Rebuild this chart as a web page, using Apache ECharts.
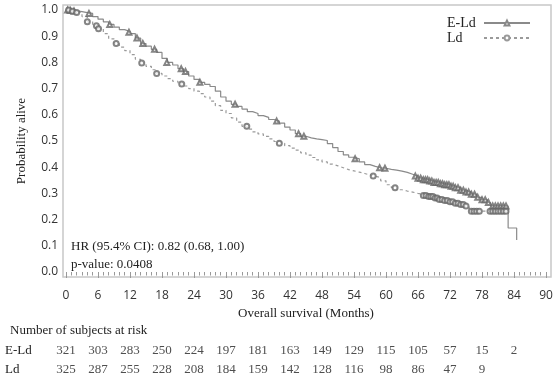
<!DOCTYPE html>
<html>
<head>
<meta charset="utf-8">
<script src="https://cdn.jsdelivr.net/npm/echarts@6/dist/echarts.min.js"></script>
<style>html,body{margin:0;padding:0;background:#fff}#c{width:557px;height:380px}</style>
</head>
<body>
<div id="c"></div>
<script>
// ---- data ----
const xTicks = [0, 6, 12, 18, 24, 30, 36, 42, 48, 54, 60, 66, 72, 78, 84, 90];
const yTicks = [0, 0.1, 0.2, 0.3, 0.4, 0.5, 0.6, 0.7, 0.8, 0.9, 1.0];
const seriesNames = ['E-Ld', 'Ld'];

const eldCurve = [
  [0,1.0],[1,0.997],[2,0.994],[3,0.99],[4,0.987],[5,0.975],[6,0.965],[7,0.955],[8,0.945],[9,0.935],
  [10,0.925],[11,0.918],[12,0.91],[13,0.893],[14,0.872],[15,0.862],[16,0.85],[17,0.838],[18,0.815],[19,0.8],
  [20,0.79],[21,0.776],[22,0.765],[23,0.748],[24,0.735],[25,0.724],[26,0.716],[27,0.708],[28,0.69],[29,0.668],
  [30,0.652],[31,0.64],[32,0.632],[33,0.622],[34,0.612],[35,0.605],[36,0.597],[37,0.59],[38,0.582],[39,0.576],
  [40,0.568],[41,0.553],[42,0.542],[43,0.528],[44,0.518],[45,0.512],[46,0.508],[47,0.505],[48,0.502],[49,0.49],
  [50,0.475],[51,0.46],[52,0.447],[53,0.438],[54,0.432],[55,0.42],[56,0.41],[57,0.403],[58,0.398],[59,0.396],
  [60,0.392],[61,0.389],[62,0.385],[63,0.38],[64,0.373],[65,0.366],[66,0.358],[67,0.352],[68,0.347],[69,0.342],
  [70,0.337],[71,0.333],[72,0.327],[73,0.322],[74,0.312],[75,0.305],[76,0.297],[77,0.285],[78,0.276],[79,0.265],
  [79.6,0.252],[82.9,0.168],[84.5,0.122]
];
const ldCurve = [
  [0,1.0],[1,0.995],[2,0.99],[3,0.975],[4,0.955],[5,0.94],[6,0.928],[7,0.91],[8,0.89],[9,0.872],
  [10,0.858],[11,0.845],[12,0.83],[13,0.812],[14,0.798],[15,0.785],[16,0.772],[17,0.758],[18,0.748],[19,0.738],
  [20,0.728],[21,0.718],[22,0.71],[23,0.7],[24,0.69],[25,0.681],[26,0.668],[27,0.652],[28,0.635],[29,0.617],
  [30,0.605],[31,0.588],[32,0.572],[33,0.556],[34,0.545],[35,0.535],[36,0.527],[37,0.518],[38,0.508],[39,0.498],
  [40,0.491],[41,0.482],[42,0.473],[43,0.465],[44,0.455],[45,0.446],[46,0.437],[47,0.428],[48,0.42],[49,0.412],
  [50,0.405],[51,0.398],[52,0.391],[53,0.386],[54,0.381],[55,0.376],[56,0.37],[57,0.366],[58,0.36],[59,0.348],
  [60,0.333],[61,0.322],[62,0.314],[63,0.309],[64,0.305],[65,0.3],[66,0.296],[67,0.292],[68,0.288],[69,0.282],
  [70,0.277],[71,0.273],[72,0.268],[73,0.262],[74,0.258],[75,0.252],[75.6,0.232],[82.5,0.232]
];
const eldCensor = [
  [0.3,1.0],[0.8,0.998],[1.5,0.996],[4.3,0.987],[8.2,0.945],[11.8,0.915],[13.3,0.893],[14.4,0.872],[16.6,0.85],
  [18.9,0.8],[21.6,0.776],[22.4,0.765],[25.1,0.724],[31.7,0.64],[39.5,0.576],[43.6,0.528],[44.6,0.518],
  [54.2,0.432],[58.8,0.398],[59.8,0.396],[65.5,0.366],[66,0.358],[66.5,0.358],[67,0.352],[67.4,0.352],
  [67.8,0.352],[68.2,0.347],[68.6,0.347],[69,0.342],[69.4,0.342],[69.8,0.342],[70.2,0.337],[70.6,0.337],
  [71,0.333],[71.4,0.333],[71.8,0.333],[72.2,0.327],[72.6,0.327],[73,0.322],[73.5,0.322],[74,0.312],
  [74.5,0.312],[75,0.305],[75.5,0.305],[76,0.297],[76.6,0.297],[77.2,0.285],[78,0.276],[78.6,0.276],
  [79.2,0.265],[80,0.252],[80.5,0.252],[81,0.252],[81.5,0.252],[82,0.252],[82.5,0.252]
];
const ldCensor = [
  [0.5,1.0],[1.2,0.995],[2,0.99],[4,0.955],[5.7,0.94],[6.1,0.928],[9.4,0.872],[14.2,0.798],[17,0.758],
  [21.7,0.718],[33.9,0.556],[40,0.491],[57.6,0.366],[61.7,0.322],[67,0.292],[67.5,0.292],[68,0.288],
  [68.4,0.288],[68.8,0.288],[69.2,0.282],[69.6,0.282],[70,0.277],[70.5,0.277],[71,0.273],[71.5,0.273],
  [72,0.268],[72.5,0.268],[73,0.262],[73.5,0.262],[74,0.258],[74.5,0.258],[75,0.252],[76,0.232],
  [76.5,0.232],[77,0.232],[77.5,0.232],[79.5,0.232],[80,0.232],[80.5,0.232],[81,0.232],[81.5,0.232],
  [82,0.232],[82.5,0.232]
];
const riskTimes = [0, 6, 12, 18, 24, 30, 36, 42, 48, 54, 60, 66, 72, 78, 84];
const riskEld = [321, 303, 283, 250, 224, 197, 181, 163, 149, 129, 115, 105, 57, 15, 2];
const riskLd = [325, 287, 255, 228, 208, 184, 159, 142, 128, 116, 98, 86, 47, 9];
const annotationLines = ['HR (95.4% CI): 0.82 (0.68, 1.00)', 'p-value: 0.0408'];
const riskTitle = 'Number of subjects at risk';
const xName = 'Overall survival (Months)';
const yName = 'Probability alive';

// ---- chart ----
const SERIF = '"Liberation Serif", "DejaVu Serif", serif';
const SANS = '"Open Sans", "Noto Sans", sans-serif';
const chart = echarts.init(document.getElementById('c'), null, {renderer: 'canvas'});

const riskData = [];
riskTimes.forEach((t, i) => { if (riskEld[i] !== undefined) riskData.push([t, 'E-Ld', riskEld[i]]); });
riskTimes.forEach((t, i) => { if (riskLd[i] !== undefined) riskData.push([t, 'Ld', riskLd[i]]); });

chart.setOption({
  animation: false,
  backgroundColor: '#fff',
  grid: [
    {left: 66, right: 11, top: 10, bottom: 108},
    {left: 66, right: 11, top: 341.5, height: 38}
  ],
  xAxis: [
    {
      type: 'value', gridIndex: 0, min: xTicks[0], max: xTicks[xTicks.length - 1], interval: 6, offset: 5,
      axisLine: {show: false},
      axisTick: {show: true, length: 6, lineStyle: {color: '#999'}},
      minorTick: {show: true, splitNumber: 6, length: 3.5, lineStyle: {color: '#999'}},
      splitLine: {show: false},
      axisLabel: {margin: 13, color: '#333', fontFamily: SANS, fontSize: 12},
      name: xName, nameLocation: 'middle', nameGap: 30,
      nameTextStyle: {fontFamily: SERIF, fontSize: 13, color: '#222'}
    },
    {
      type: 'value', gridIndex: 1, min: 0, max: 90, show: false
    }
  ],
  yAxis: [
    {
      type: 'value', gridIndex: 0, min: yTicks[0], max: yTicks[yTicks.length - 1], interval: 0.1,
      axisLine: {show: false}, axisTick: {show: false}, splitLine: {show: false},
      axisLabel: {margin: 8, color: '#333', fontFamily: SANS, fontSize: 12, formatter: v => v.toFixed(1)},
      name: yName, nameLocation: 'middle', nameGap: 38,
      nameTextStyle: {fontFamily: SERIF, fontSize: 13, color: '#222'}
    },
    {
      type: 'category', gridIndex: 1, data: ['Ld', 'E-Ld'],
      axisLine: {show: false}, axisTick: {show: false}, splitLine: {show: false},
      axisLabel: {align: 'left', margin: 61, fontFamily: SERIF, fontSize: 13, color: '#222'}
    }
  ],
  legend: {
    orient: 'vertical', right: 21, top: 11, align: 'right', itemGap: 1,
    itemWidth: 46, itemHeight: 6,
    data: seriesNames,
    formatter: n => '{t|' + n + '}',
    textStyle: {
      fontFamily: SERIF, fontSize: 14, color: '#222',
      rich: {t: {width: 32, align: 'left', fontFamily: SERIF, fontSize: 14, color: '#222'}}
    }
  },
  graphic: [
    {type: 'rect', z: 0, silent: true, shape: {x: 63, y: 5, width: 488, height: 272},
     style: {fill: 'none', stroke: '#c8c8c8', lineWidth: 1.5}},
    {type: 'text', left: 71, top: 240, style: {text: annotationLines[0], font: '13px ' + SERIF, fill: '#222'}},
    {type: 'text', left: 71, top: 258, style: {text: annotationLines[1], font: '13px ' + SERIF, fill: '#222'}},
    {type: 'text', left: 10, top: 324, style: {text: riskTitle, font: '13px ' + SERIF, fill: '#222'}}
  ],
  series: [
    {
      name: 'E-Ld', type: 'line', xAxisIndex: 0, yAxisIndex: 0, step: 'end', data: eldCurve,
      showSymbol: false, symbol: 'emptyTriangle', symbolSize: 5,
      lineStyle: {color: '#8a8a8a', width: 1.2}, itemStyle: {color: '#8a8a8a'}, z: 3
    },
    {
      name: 'Ld', type: 'line', xAxisIndex: 0, yAxisIndex: 0, step: 'end', data: ldCurve,
      showSymbol: false, symbol: 'emptyCircle', symbolSize: 5,
      lineStyle: {color: '#9a9a9a', width: 1.2, type: [3, 3]}, itemStyle: {color: '#9a9a9a'}, z: 3
    },
    {
      name: 'E-Ld censor', type: 'scatter', xAxisIndex: 0, yAxisIndex: 0, data: eldCensor,
      symbol: 'emptyTriangle', symbolSize: 5, itemStyle: {color: '#666', borderColor: '#666', borderWidth: 0.8}, z: 4
    },
    {
      name: 'Ld censor', type: 'scatter', xAxisIndex: 0, yAxisIndex: 0, data: ldCensor,
      symbol: 'emptyCircle', symbolSize: 5, itemStyle: {color: '#666', borderColor: '#666', borderWidth: 0.8}, z: 4
    },
    {
      name: 'risk', type: 'scatter', xAxisIndex: 1, yAxisIndex: 1, data: riskData,
      symbolSize: 1, itemStyle: {color: 'rgba(0,0,0,0)'},
      label: {show: true, position: 'inside', formatter: p => String(p.value[2]),
              fontFamily: SERIF, fontSize: 13, color: '#222'}
    }
  ]
});
</script>
</body>
</html>
